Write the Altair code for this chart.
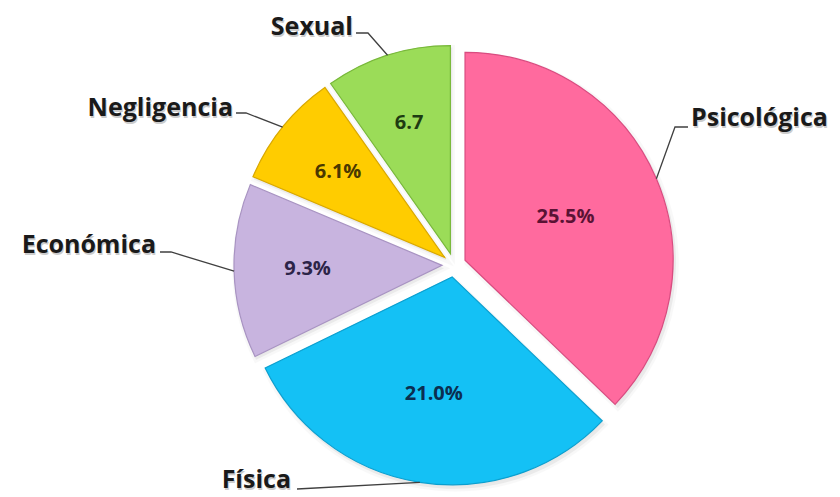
import math
import altair as alt
import pandas as pd

# ---- data ----
categories = ["Psicológica", "Física", "Económica", "Negligencia", "Sexual"]
values = [25.5, 21.0, 9.3, 6.1, 6.7]
value_labels = ["25.5%", "21.0%", "9.3%", "6.1%", "6.7"]

# ---- style ----
colors = ["#FF6A9E", "#14C1F5", "#C8B4DF", "#FFCC00", "#9BDC58"]
edge_colors = ["#D94C80", "#0B9FCF", "#A893C2", "#D9A800", "#78B83A"]
text_colors = ["#5A1234", "#0B2E50", "#2C2448", "#4A3800", "#1E3B12"]

W, H = 840, 497
CX, CY = 454, 265
R = 208
EXPLODE = 12
FONT = "Open Sans"

total = sum(values)
df = pd.DataFrame({"cat": categories, "value": values, "vlabel": value_labels,
                   "tcolor": text_colors})
df["end"] = df["value"].cumsum()
df["start"] = df["end"] - df["value"]
mid = (df["start"] + df["end"]) / 2 / total * 2 * math.pi
half = df["value"] / total * math.pi
# label sits at the centroid of each wedge
lab_r = 2 * R * half.apply(math.sin) / (3 * half)
df["cx"] = CX + EXPLODE * mid.apply(math.sin)
df["cy"] = CY - EXPLODE * mid.apply(math.cos)
df["lx"] = df["cx"] + lab_r * mid.apply(math.sin)
df["ly"] = df["cy"] - lab_r * mid.apply(math.cos)
df["ex"] = df["cx"] + R * mid.apply(math.sin)
df["ey"] = df["cy"] - R * mid.apply(math.cos)

# outer label annotation placement (text baseline anchor, alignment, leader elbow points)
label_pos = {
    "Psicológica": dict(tx=691, ty=126, align="left", pts=[(675, 127), (688, 127)]),
    "Física": dict(tx=291, ty=488, align="right", pts=[(297, 489)]),
    "Económica": dict(tx=156, ty=253, align="right", pts=[(171, 252), (160, 252)]),
    "Negligencia": dict(tx=233, ty=116, align="right", pts=[(246, 113), (236, 113)]),
    "Sexual": dict(tx=353, ty=35, align="right", pts=[(368, 33), (356, 33)]),
}

lab_rows, line_rows = [], []
for _, r in df.iterrows():
    p = label_pos[r["cat"]]
    lab_rows.append({"cat": r["cat"], "tx": p["tx"], "ty": p["ty"], "align": p["align"]})
    pts = [(r["ex"], r["ey"])] + p["pts"]
    for i, (px, py) in enumerate(pts):
        line_rows.append({"cat": r["cat"], "o": i, "px": px, "py": py})
labs = pd.DataFrame(lab_rows)
lines = pd.DataFrame(line_rows)

theta_scale = alt.Scale(domain=[0, total], range=[0, 2 * math.pi])
xs = alt.X("cx:Q", scale=None, axis=None)
ys = alt.Y("cy:Q", scale=None, axis=None)

base = alt.Chart(df)

shadow = base.mark_arc(outerRadius=R + 1, fill="#BDBDBD", opacity=0.35,
                       stroke="#CFCFCF", strokeWidth=5, strokeOpacity=0.4).encode(
    x=alt.X("sx:Q", scale=None, axis=None), y=alt.Y("sy:Q", scale=None, axis=None),
    theta=alt.Theta("start:Q", scale=theta_scale), theta2="end:Q",
).transform_calculate(sx="datum.cx + 2", sy="datum.cy + 3")

arcs = base.mark_arc(outerRadius=R, strokeWidth=1.2).encode(
    x=xs, y=ys,
    theta=alt.Theta("start:Q", scale=theta_scale), theta2="end:Q",
    fill=alt.Fill("cat:N", scale=alt.Scale(domain=categories, range=colors), legend=None),
    stroke=alt.Stroke("cat:N", scale=alt.Scale(domain=categories, range=edge_colors), legend=None),
)

inner = base.mark_text(font=FONT, fontWeight="bold", fontSize=20).encode(
    x=alt.X("lx:Q", scale=None, axis=None), y=alt.Y("ly:Q", scale=None, axis=None),
    text="vlabel:N",
    color=alt.Color("tcolor:N", scale=None),
)

leaders = alt.Chart(lines).mark_line(color="#404040", strokeWidth=1.3).encode(
    x=alt.X("px:Q", scale=None, axis=None), y=alt.Y("py:Q", scale=None, axis=None),
    detail="cat:N", order="o:Q",
)

def outer_text(align, dx=0, dy=0, color="#1a1a1a", opacity=1.0):
    return alt.Chart(labs).transform_filter(alt.datum.align == align).mark_text(
        font=FONT, fontWeight="bold", fontSize=25, color=color, align=align,
        baseline="alphabetic", dx=dx, dy=dy, opacity=opacity).encode(
        x=alt.X("tx:Q", scale=None, axis=None), y=alt.Y("ty:Q", scale=None, axis=None),
        text="cat:N")

chart = alt.layer(
    shadow, arcs, inner, leaders,
    outer_text("left", 1, 1.5, "#9a9a9a", 0.5), outer_text("right", 1, 1.5, "#9a9a9a", 0.5),
    outer_text("left"), outer_text("right"),
).properties(
    width=W, height=H, autosize=alt.AutoSizeParams(type="none"), padding=0,
    background="white",
).configure_view(stroke=None)

chart.save("out.html", embed_options={"renderer": "svg", "actions": False})
